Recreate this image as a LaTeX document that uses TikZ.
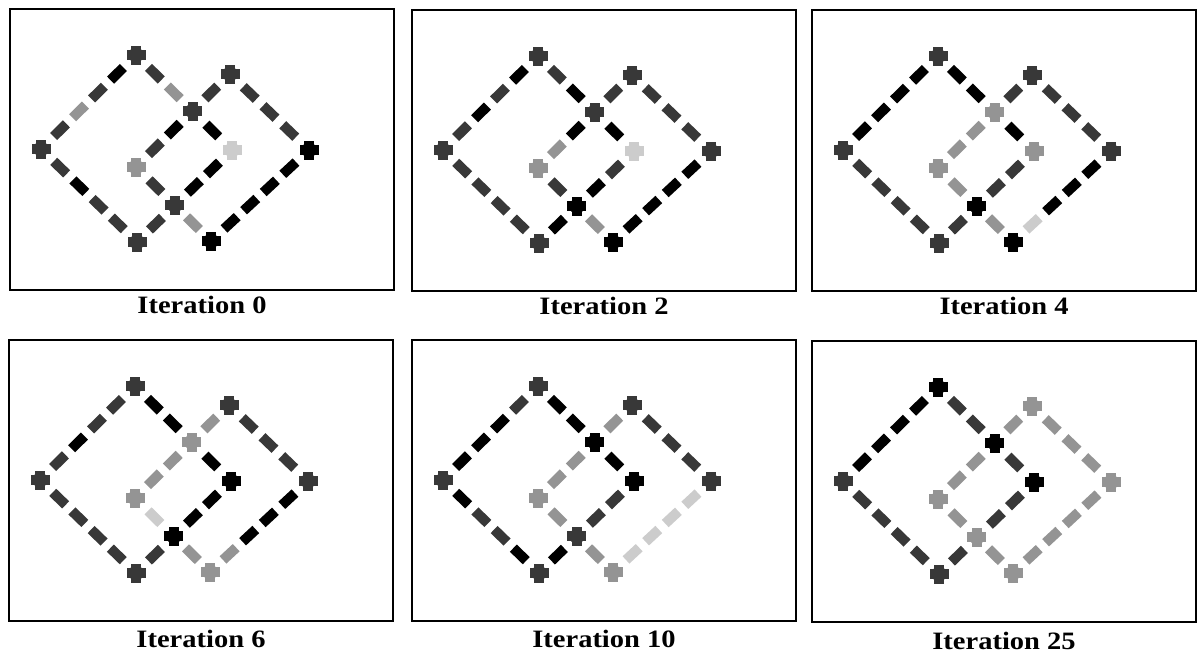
\documentclass[tikz,border=0pt]{standalone}
\usepackage{fontspec}
\setmainfont{Liberation Serif}
\usetikzlibrary{calc, positioning}

\colorlet{tk}{black}
\colorlet{td}{black!78}
\colorlet{tm}{black!42}
\colorlet{tl}{black!20}

\tikzset{
  panelbox/.style={draw, line width=2.4pt, minimum width=384pt, minimum height=281pt, inner sep=0pt},
  caption/.style={inner sep=0pt, font=\bfseries\fontsize{25}{28}\selectfont},
  dashbar/.style={line width=10pt},
}

% corners and crossings of the two squares (panel coordinates)
\newcommand{\cornerpts}{%
  \coordinate (T1) at (126,46);  \coordinate (L1) at (31,140);
  \coordinate (B1) at (127,233); \coordinate (R1) at (222,141);
  \coordinate (T2) at (220,65);  \coordinate (R2) at (299,141);
  \coordinate (B2) at (201,232); \coordinate (L2) at (126,158);
  \coordinate (J1) at (intersection of T1--R1 and L2--T2);
  \coordinate (J2) at (intersection of R1--B1 and L2--B2);
}

% #1 from, #2 to, #3 tones of the dashes in between
\newcommand{\dashrow}[3]{%
  \foreach \tn [count=\nn] in {#3} {\xdef\dashcount{\nn}}
  \foreach \tn [count=\ii] in {#3} {
    \coordinate (dc) at ($(#1)!{\ii/(\dashcount+1)}!(#2)$);
    \draw[dashbar, color=t\tn] ($(dc)!-9pt!(#2)$) -- ($(dc)!9pt!(#2)$);
  }}

% blobs on corners and crossings, point/tone
\newcommand{\blobset}[1]{%
  \foreach \vx/\tn in {#1} {
    \fill[color=t\tn] (\vx) circle (7.5pt);
    \fill[color=t\tn] ($(\vx)+(-9.5,-5)$) rectangle ++(19,10);
    \fill[color=t\tn] ($(\vx)+(-5,-9.5)$) rectangle ++(10,19);
  }}

\begin{document}
\begin{tikzpicture}[x=1pt, y=-1pt]
  \useasboundingbox (0,0) rectangle (1199,656);
  % Iteration 0
  \begin{scope}[shift={(10,9)}]
    \node[panelbox] (f0) at (192,140.5) {};
    \cornerpts
    \dashrow{T1}{L1}{k,d,m,d} \dashrow{L1}{B1}{d,k,d,d} \dashrow{T1}{J1}{d,m} \dashrow{J1}{R1}{k}
    \dashrow{R1}{J2}{k,k} \dashrow{J2}{B1}{d} \dashrow{L2}{J1}{d,k} \dashrow{J1}{T2}{d}
    \dashrow{T2}{R2}{d,d,d} \dashrow{R2}{B2}{k,k,k,k} \dashrow{L2}{J2}{d} \dashrow{J2}{B2}{m}
    \blobset{T1/d,L1/d,B1/d,R1/l,T2/d,R2/k,B2/k,L2/m,J1/d,J2/d}
  \end{scope}
  \node[caption, below=5pt of f0] (c0) {\scalebox{1.14}[1]{Iteration 0}};
  % Iteration 2
  \begin{scope}[shift={(412,10)}]
    \node[panelbox] (f2) at (192,140.5) {};
    \cornerpts
    \dashrow{T1}{L1}{k,d,k,d} \dashrow{L1}{B1}{d,d,d,d} \dashrow{T1}{J1}{d,k} \dashrow{J1}{R1}{k}
    \dashrow{R1}{J2}{d,k} \dashrow{J2}{B1}{k} \dashrow{L2}{J1}{m,k} \dashrow{J1}{T2}{d}
    \dashrow{T2}{R2}{d,d,d} \dashrow{R2}{B2}{k,k,k,k} \dashrow{L2}{J2}{d} \dashrow{J2}{B2}{m}
    \blobset{T1/d,L1/d,B1/d,R1/l,T2/d,R2/d,B2/k,L2/m,J1/d,J2/k}
  \end{scope}
  \node[caption, below=5pt of f2] (c2) {\scalebox{1.14}[1]{Iteration 2}};
  % Iteration 4
  \begin{scope}[shift={(812,10)}]
    \node[panelbox] (f4) at (192,140.5) {};
    \cornerpts
    \dashrow{T1}{L1}{k,k,k,k} \dashrow{L1}{B1}{d,d,d,d} \dashrow{T1}{J1}{k,k} \dashrow{J1}{R1}{k}
    \dashrow{R1}{J2}{d,d} \dashrow{J2}{B1}{d} \dashrow{L2}{J1}{m,m} \dashrow{J1}{T2}{d}
    \dashrow{T2}{R2}{d,d,d} \dashrow{R2}{B2}{k,k,k,l} \dashrow{L2}{J2}{m} \dashrow{J2}{B2}{m}
    \blobset{T1/d,L1/d,B1/d,R1/m,T2/d,R2/d,B2/k,L2/m,J1/m,J2/k}
  \end{scope}
  \node[caption, below=5pt of f4] (c4) {\scalebox{1.14}[1]{Iteration 4}};
  % Iteration 6
  \begin{scope}[shift={(9,340)}]
    \node[panelbox] (f6) at (192,140.5) {};
    \cornerpts
    \dashrow{T1}{L1}{d,d,k,d} \dashrow{L1}{B1}{d,d,d,d} \dashrow{T1}{J1}{k,k} \dashrow{J1}{R1}{k}
    \dashrow{R1}{J2}{k,k} \dashrow{J2}{B1}{d} \dashrow{L2}{J1}{m,m} \dashrow{J1}{T2}{m}
    \dashrow{T2}{R2}{d,d,d} \dashrow{R2}{B2}{k,k,k,m} \dashrow{L2}{J2}{l} \dashrow{J2}{B2}{m}
    \blobset{T1/d,L1/d,B1/d,R1/k,T2/d,R2/d,B2/m,L2/m,J1/m,J2/k}
  \end{scope}
  \node[caption, below=8pt of f6] (c6) {\scalebox{1.14}[1]{Iteration 6}};
  % Iteration 10
  \begin{scope}[shift={(412,340)}]
    \node[panelbox] (f10) at (192,140.5) {};
    \cornerpts
    \dashrow{T1}{L1}{d,k,k,k} \dashrow{L1}{B1}{k,d,d,k} \dashrow{T1}{J1}{k,k} \dashrow{J1}{R1}{k}
    \dashrow{R1}{J2}{d,d} \dashrow{J2}{B1}{k} \dashrow{L2}{J1}{m,m} \dashrow{J1}{T2}{m}
    \dashrow{T2}{R2}{d,d,d} \dashrow{R2}{B2}{l,l,l,l} \dashrow{L2}{J2}{m} \dashrow{J2}{B2}{m}
    \blobset{T1/d,L1/d,B1/d,R1/k,T2/d,R2/d,B2/m,L2/m,J1/k,J2/d}
  \end{scope}
  \node[caption, below=8pt of f10] (c10) {\scalebox{1.14}[1]{Iteration 10}};
  % Iteration 25
  \begin{scope}[shift={(812,341)}]
    \node[panelbox] (f25) at (192,140.5) {};
    \cornerpts
    \dashrow{T1}{L1}{k,k,k,k} \dashrow{L1}{B1}{d,d,d,d} \dashrow{T1}{J1}{d,d} \dashrow{J1}{R1}{d}
    \dashrow{R1}{J2}{d,d} \dashrow{J2}{B1}{d} \dashrow{L2}{J1}{m,m} \dashrow{J1}{T2}{m}
    \dashrow{T2}{R2}{m,m,m} \dashrow{R2}{B2}{m,m,m,m} \dashrow{L2}{J2}{m} \dashrow{J2}{B2}{m}
    \blobset{T1/k,L1/d,B1/d,R1/k,T2/m,R2/m,B2/m,L2/m,J1/k,J2/m}
  \end{scope}
  \node[caption, below=9pt of f25] (c25) {\scalebox{1.14}[1]{Iteration 25}};
\end{tikzpicture}
\end{document}
